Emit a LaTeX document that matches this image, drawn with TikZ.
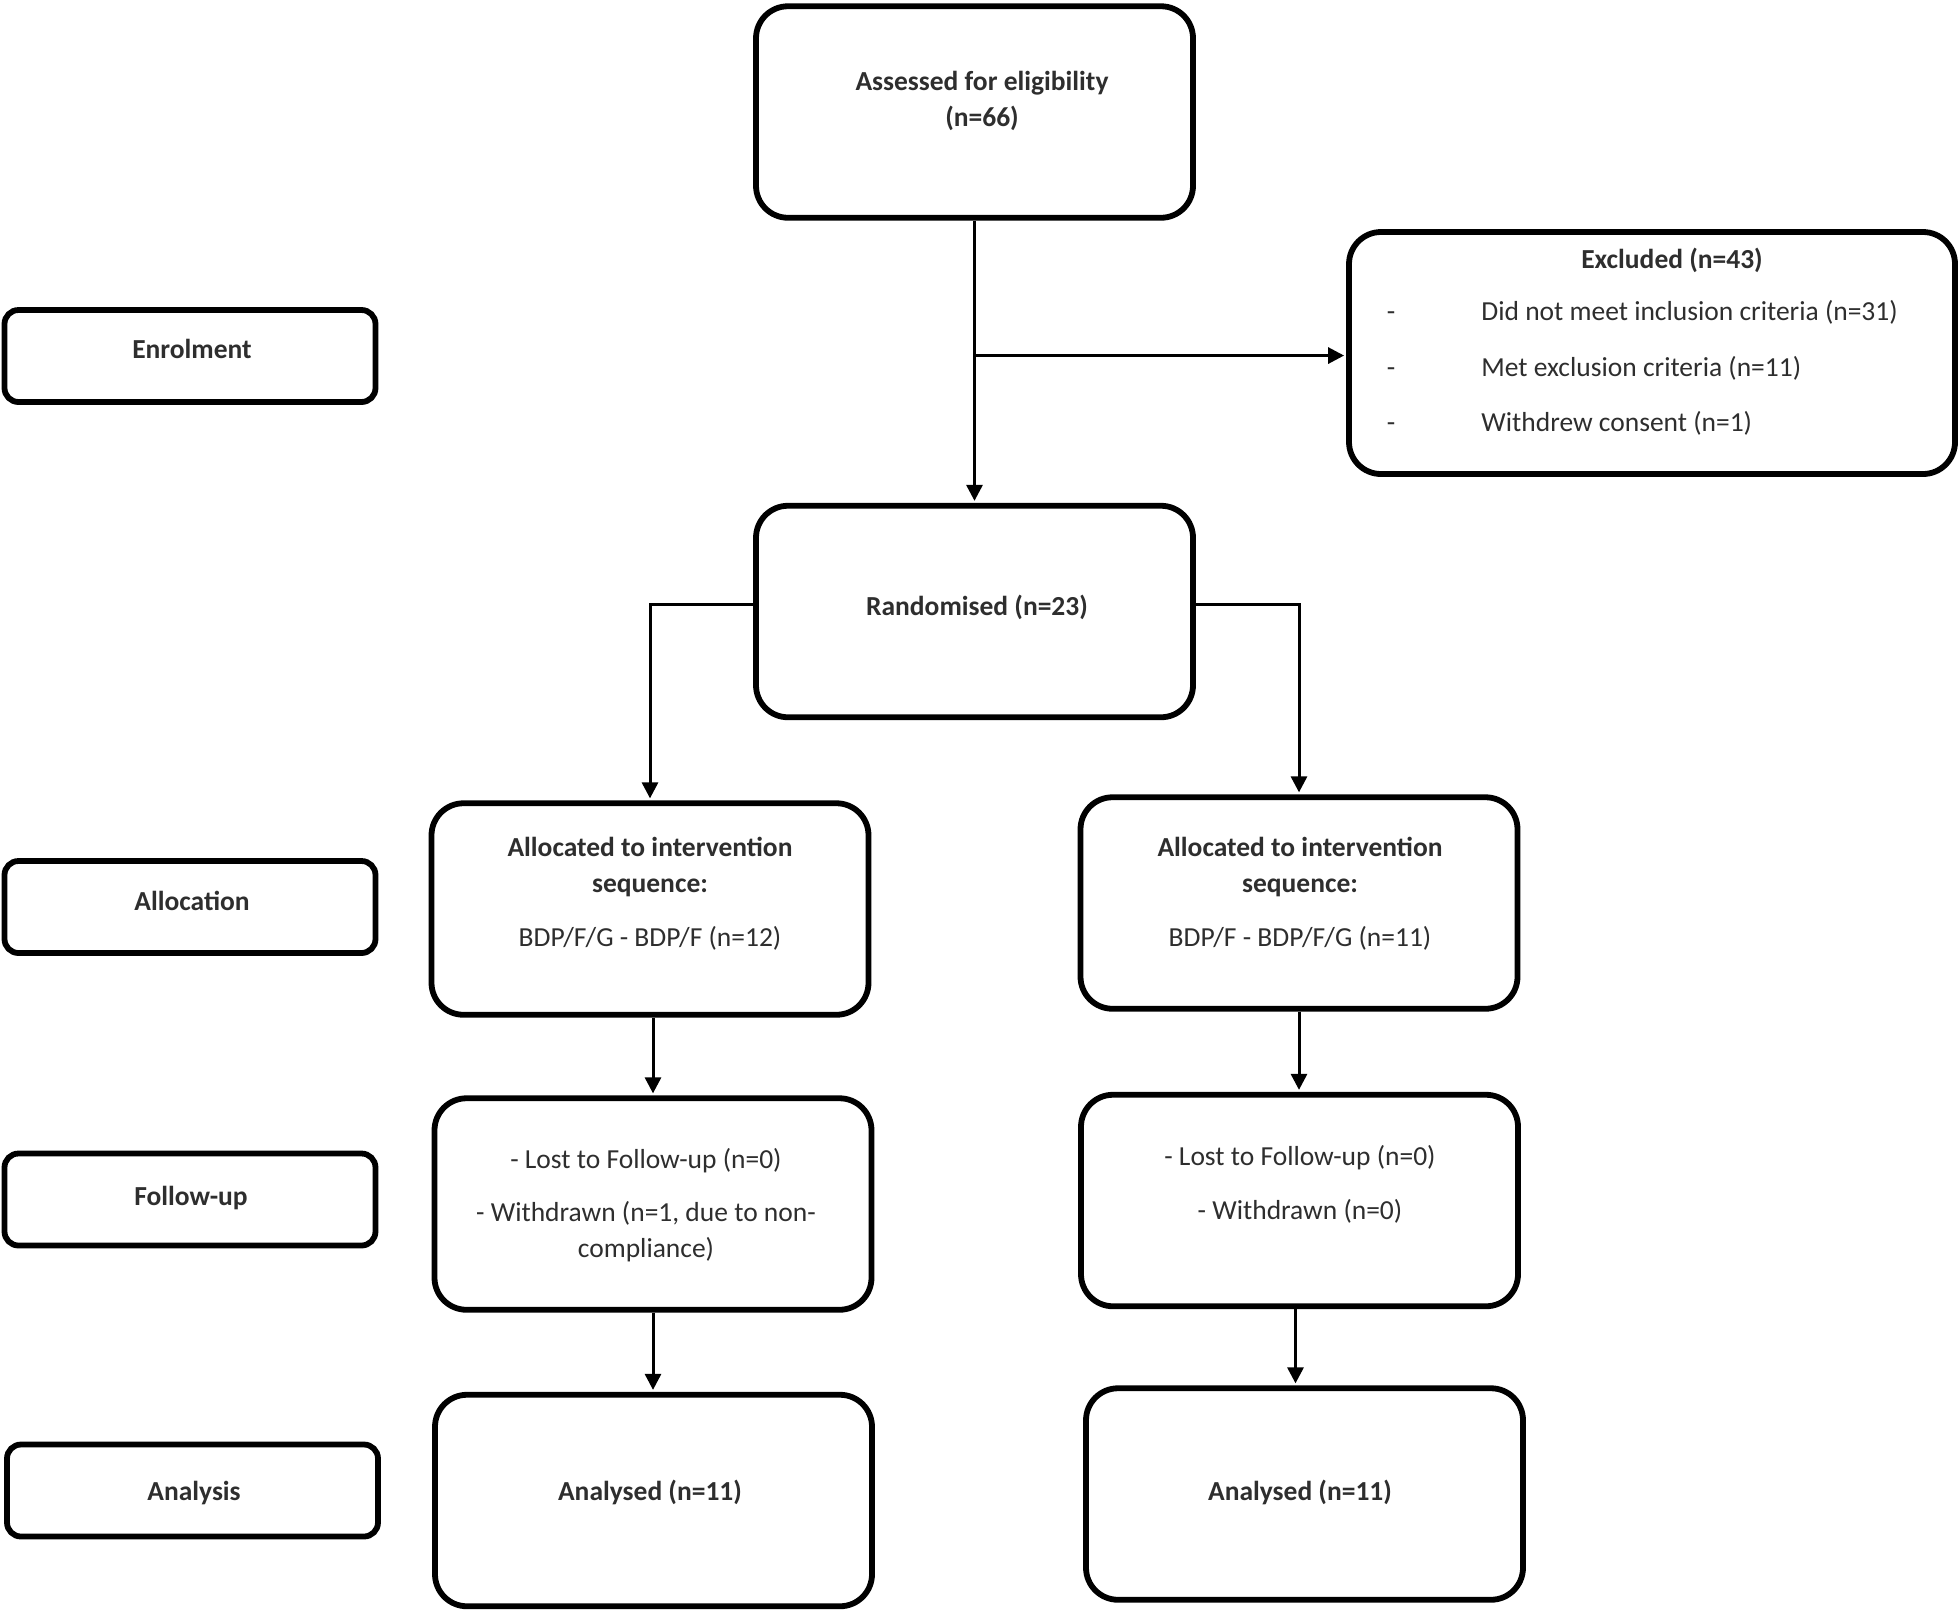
\documentclass[tikz,border=0pt]{standalone}
\usepackage{fontspec}
\setmainfont{Carlito}
\usetikzlibrary{arrows.meta,calc}
\definecolor{txt}{HTML}{2E2E2E}
\begin{document}
\begin{tikzpicture}[x=0.5pt,y=-0.5pt,
  box/.style={draw=black, line width=2.9pt, rounded corners=16pt, inner sep=0pt, fill=white},
  big/.style={box, minimum width=218.5pt, minimum height=105.75pt},
  lab/.style={draw=black, line width=2.9pt, rounded corners=7pt, inner sep=0pt, minimum width=185.5pt, minimum height=46pt},
  t/.style={font=\fontsize{13.75pt}{16pt}\selectfont, text=txt, inner sep=0pt, anchor=base},
  tb/.style={t, font=\fontsize{13.75pt}{16pt}\selectfont\bfseries},
  arr/.style={draw=black, line width=1.5pt, -{Triangle[length=8pt,width=8pt]}, shorten >=1pt}]
\useasboundingbox (0,0) rectangle (1960,1614);
% boxes
\node[big] (assess) at (974.5,112) {};
\node[box, minimum width=303pt, minimum height=121pt] (excl) at (1652,353) {};
\node[big] (rand) at (974.5,611.5) {};
\node[big] (allocL) at (650,909) {};
\node[big] (allocR) at (1299,903) {};
\node[big] (fuL) at (653,1204) {};
\node[big] (fuR) at (1299.5,1200.5) {};
\node[big] (anL) at (653.5,1500.5) {};
\node[big] (anR) at (1304.5,1494) {};
\node[lab] (enrol) at (190,356) {};
\node[lab] (allocLab) at (190,907) {};
\node[lab] (fuLab) at (190,1199.5) {};
\node[lab] (anLab) at (192.5,1490.5) {};
% texts
\node[tb] (tA1) at (982,90) {Assessed for eligibility};
\node[tb] (tA2) at (982,126) {(n=66)};
\node[tb] (tE0) at (1672,268) {Excluded (n=43)};
\node[t] (d1) at (1391,320) {-};
\node[t] (d2) at (1391,376) {-};
\node[t] (d3) at (1391,431) {-};
\node[t, anchor=base west] (tE1) at (1481,320) {Did not meet inclusion criteria (n=31)};
\node[t, anchor=base west] (tE2) at (1481,376) {Met exclusion criteria (n=11)};
\node[t, anchor=base west] (tE3) at (1481,431) {Withdrew consent (n=1)};
\node[tb] (tEn) at (192,358) {Enrolment};
\node[tb] (tR) at (977,615) {Randomised (n=23)};
\node[tb] (tL1) at (650,856) {Allocated to intervention};
\node[tb] (tL2) at (650,892) {sequence:};
\node[t] (tL3) at (650,946) {BDP/F/G - BDP/F (n=12)};
\node[tb] (tR1) at (1300,856) {Allocated to intervention};
\node[tb] (tR2) at (1300,892) {sequence:};
\node[t] (tR3) at (1300,946) {BDP/F - BDP/F/G (n=11)};
\node[tb] (tAl) at (192,910) {Allocation};
\node[t] (tF1) at (646,1168) {- Lost to Follow-up (n=0)};
\node[t] (tF2) at (646,1221) {- Withdrawn (n=1, due to non-};
\node[t] (tF3) at (646,1257) {compliance)};
\node[t] (tG1) at (1300,1165) {- Lost to Follow-up (n=0)};
\node[t] (tG2) at (1300,1219) {- Withdrawn (n=0)};
\node[tb] (tFu) at (191,1205) {Follow-up};
\node[tb] (tAnL) at (650,1500) {Analysed (n=11)};
\node[tb] (tAnR) at (1300,1500) {Analysed (n=11)};
\node[tb] (tAn) at (194,1500) {Analysis};
% connectors
\draw[arr] (assess.south) -- (rand.north);
\coordinate (j) at ($(assess.south)!0.478!(rand.north)$);
\draw[arr] (j) -- (j -| excl.west);
\draw[arr] ([yshift=3.75pt]rand.west) -| (allocL.north);
\draw[arr] ([yshift=3.75pt]rand.east) -| (allocR.north);
\draw[arr] ([xshift=1.5pt]allocL.south) -- ([xshift=1.5pt]allocL.south |- fuL.north);
\draw[arr] (allocR.south) -- (allocR.south |- fuR.north);
\draw[arr] (fuL.south) -- (fuL.south |- anL.north);
\draw[arr] ([xshift=-2pt]fuR.south) -- ([xshift=-2pt]fuR.south |- anR.north);
\end{tikzpicture}
\end{document}
